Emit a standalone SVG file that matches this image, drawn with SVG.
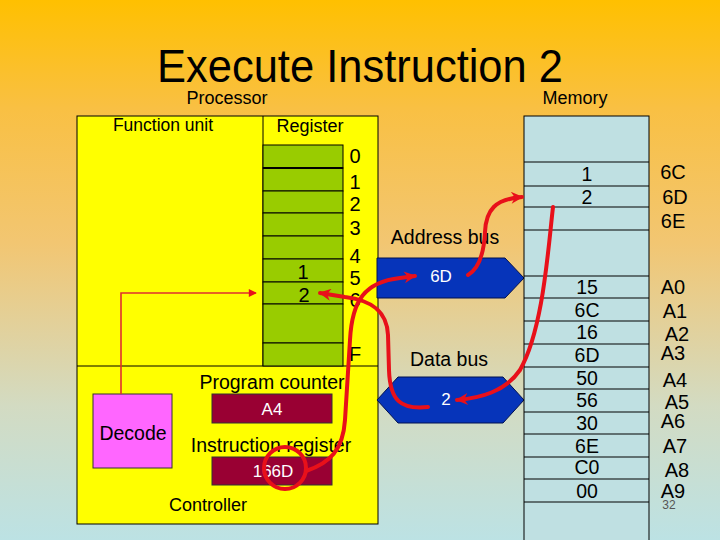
<svg xmlns="http://www.w3.org/2000/svg" width="720" height="540" viewBox="0 0 720 540">
<defs>
<linearGradient id="bg" x1="0" y1="0" x2="0" y2="1">
<stop offset="0" stop-color="#FFC000"/>
<stop offset="0.2" stop-color="#F9C043"/>
<stop offset="0.45" stop-color="#F2C672"/>
<stop offset="0.75" stop-color="#D3DBC2"/>
<stop offset="1" stop-color="#BCE2E4"/>
</linearGradient>
<marker id="ah" viewBox="0 0 10 10" refX="9" refY="5" markerWidth="16" markerHeight="12" markerUnits="userSpaceOnUse" orient="auto">
<path d="M0,0 L10,5 L0,10 L3,5 z" fill="#E8101A"/>
</marker>
<marker id="ahs" viewBox="0 0 10 10" refX="9" refY="5" markerWidth="10" markerHeight="8" markerUnits="userSpaceOnUse" orient="auto">
<path d="M0,0 L10,5 L0,10 z" fill="#E8101A"/>
</marker>
<style>
text{font-family:"Liberation Sans",Arial,sans-serif;fill:#000}
.lbl{font-size:18px}
.mid{text-anchor:middle}
.reg{font-size:20px;text-anchor:middle}
.mem{font-size:19.5px;text-anchor:middle}
.adr{font-size:20px;text-anchor:middle}
.wt{fill:#fff;font-size:17px;text-anchor:middle}
.cell{fill:#99CC00;stroke:#000;stroke-width:1}
.mcell{fill:none;stroke:#000;stroke-width:1}
.box{fill:#990033;stroke:#333;stroke-width:1}
.bus{fill:#0634BA;stroke:#001050;stroke-width:1}
.red{fill:none;stroke:#E8101A;stroke-width:4;stroke-linecap:round}
.thin{fill:none;stroke:#E03030;stroke-width:1.6}
</style>
</defs>
<rect x="0" y="0" width="720" height="540" fill="url(#bg)"/>

<text x="360" y="82" font-size="46" class="mid" textLength="406" lengthAdjust="spacingAndGlyphs">Execute Instruction 2</text>
<text x="227" y="104" class="lbl mid">Processor</text>
<text x="575" y="104" class="lbl mid">Memory</text>

<g id="processor">
<rect x="77" y="116" width="301" height="408" fill="#FFFF00" stroke="#000" stroke-width="1"/>
<line x1="77" y1="366" x2="378" y2="366" stroke="#000" stroke-width="1"/>
<line x1="263" y1="116" x2="263" y2="366" stroke="#000" stroke-width="1"/>
</g>

<g id="function-unit">
<text x="163" y="131" font-size="17.5" class="mid">Function unit</text>
</g>

<g id="register">
<text x="310" y="132" class="lbl mid">Register</text>
<rect class="cell" x="263" y="145" width="80" height="23"/>
<rect class="cell" x="263" y="168" width="80" height="23"/>
<rect class="cell" x="263" y="191" width="80" height="22"/>
<rect class="cell" x="263" y="213" width="80" height="23"/>
<rect class="cell" x="263" y="236" width="80" height="23"/>
<rect class="cell" x="263" y="259" width="80" height="23"/>
<rect class="cell" x="263" y="282" width="80" height="22"/>
<rect class="cell" x="263" y="304" width="80" height="39"/>
<rect class="cell" x="263" y="343" width="80" height="23"/>
<line x1="263" y1="168" x2="343" y2="168" stroke="#000" stroke-width="2.2"/>
<text class="reg" x="303" y="279">1</text>
<text class="reg" x="304" y="302">2</text>
<text class="reg" x="355" y="163">0</text>
<text class="reg" x="355" y="189">1</text>
<text class="reg" x="355" y="211">2</text>
<text class="reg" x="355" y="235">3</text>
<text class="reg" x="355" y="263">4</text>
<text class="reg" x="355" y="285">5</text>
<text class="reg" x="355" y="307">6</text>
<text class="reg" x="355" y="361">F</text>
</g>

<g id="controller">
<text x="272" y="389" font-size="19.5" class="mid">Program counter</text>
<rect class="box" x="212" y="394" width="120" height="29"/>
<text class="wt" x="272" y="415">A4</text>
<text x="271" y="452" font-size="19.5" class="mid">Instruction register</text>
<rect class="box" x="212" y="457" width="120" height="28"/>
<text class="wt" x="273" y="477">166D</text>
<text x="208" y="511" class="lbl mid">Controller</text>
</g>

<g id="decode">
<rect x="93" y="394" width="79" height="74" fill="#FF66FF" stroke="#333" stroke-width="1"/>
<text x="133" y="440" font-size="19.5" class="mid">Decode</text>
</g>

<g id="address-bus">
<text x="445" y="244" font-size="19.5" class="mid">Address bus</text>
<polygon class="bus" points="377,258 505,258 524,278 505,298 377,298"/>
<text class="wt" x="441" y="282">6D</text>
</g>

<g id="data-bus">
<text x="449" y="366" font-size="19.5" class="mid">Data bus</text>
<polygon class="bus" points="377,400 398,377 503,377 524,400 503,423 398,423"/>
<text class="wt" x="446" y="405">2</text>
</g>

<g id="memory">
<rect x="524" y="116" width="125" height="430" fill="#BFE0E2" stroke="#000" stroke-width="1"/>
<g stroke="#000" stroke-width="1">
<line x1="524" y1="162" x2="649" y2="162"/>
<line x1="524" y1="186" x2="649" y2="186"/>
<line x1="524" y1="207" x2="649" y2="207"/>
<line x1="524" y1="230" x2="649" y2="230"/>
<line x1="524" y1="276" x2="649" y2="276"/>
<line x1="524" y1="298" x2="649" y2="298"/>
<line x1="524" y1="321" x2="649" y2="321"/>
<line x1="524" y1="344" x2="649" y2="344"/>
<line x1="524" y1="367" x2="649" y2="367"/>
<line x1="524" y1="389" x2="649" y2="389"/>
<line x1="524" y1="412" x2="649" y2="412"/>
<line x1="524" y1="434" x2="649" y2="434"/>
<line x1="524" y1="457" x2="649" y2="457"/>
<line x1="524" y1="479" x2="649" y2="479"/>
<line x1="524" y1="502" x2="649" y2="502"/>
</g>
<text class="mem" x="587" y="181">1</text>
<text class="mem" x="587" y="204">2</text>
<text class="mem" x="587" y="294">15</text>
<text class="mem" x="587" y="317">6C</text>
<text class="mem" x="587" y="339">16</text>
<text class="mem" x="587" y="362">6D</text>
<text class="mem" x="587" y="385">50</text>
<text class="mem" x="587" y="407">56</text>
<text class="mem" x="587" y="430">30</text>
<text class="mem" x="587" y="453">6E</text>
<text class="mem" x="587" y="474">C0</text>
<text class="mem" x="587" y="498">00</text>
<text class="adr" x="673" y="179">6C</text>
<text class="adr" x="675" y="204">6D</text>
<text class="adr" x="673" y="228">6E</text>
<text class="adr" x="673" y="294">A0</text>
<text class="adr" x="675" y="318">A1</text>
<text class="adr" x="677" y="341">A2</text>
<text class="adr" x="673" y="360">A3</text>
<text class="adr" x="675" y="387">A4</text>
<text class="adr" x="677" y="409">A5</text>
<text class="adr" x="673" y="428">A6</text>
<text class="adr" x="675" y="453">A7</text>
<text class="adr" x="677" y="477">A8</text>
<text class="adr" x="673" y="498">A9</text>
<text x="669" y="509" font-size="12" class="mid" style="fill:#555">32</text>
</g>

<g id="connectors">
<path class="thin" d="M121,394 L121,293 L256,293" marker-end="url(#ahs)"/>
<path class="red" d="M468,275 C480,268 484,252 485,232 C486,210 495,199 522,197" marker-end="url(#ah)"/>
<path class="red" d="M553,207 C548,250 543,330 520,370 C505,392 480,398 457,400" marker-end="url(#ah)"/>
<path class="red" d="M428,407 C400,410 390,400 389,370 L388,335 C387,310 370,300 345,297 L320,293" marker-end="url(#ah)"/>
<circle cx="285" cy="468" r="21" fill="none" stroke="#E8101A" stroke-width="4"/>
<path class="red" d="M306,471 C330,463 343,450 345,420 L350,340 C352,300 365,282 400,278 L415,276" marker-end="url(#ah)"/>
</g>
</svg>
